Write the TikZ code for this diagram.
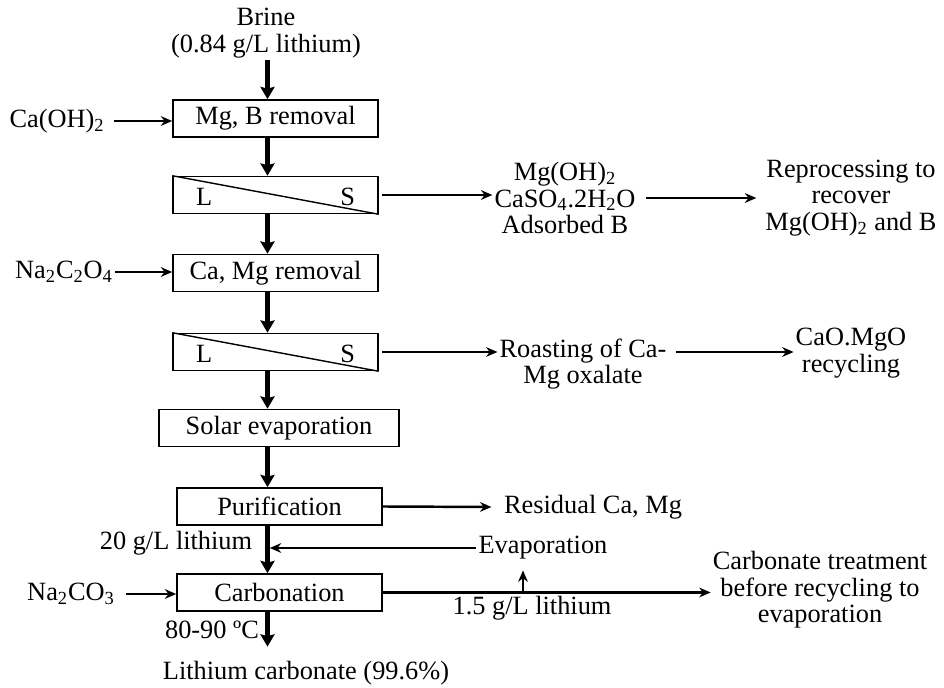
\documentclass[tikz,border=0pt]{standalone}
\usepackage{fontspec}
\setmainfont{Liberation Serif}
\usetikzlibrary{arrows.meta, positioning}

\begin{document}
\begin{tikzpicture}[x=0.02cm, y=-0.02cm, font=\fontsize{15}{15}\selectfont]
    \tikzset{
        unit_box/.style={draw, shape = rectangle, line width=0.9pt, minimum width=4.1cm, minimum height=0.74cm},
        txt/.style={align=center, inner sep=1pt},
        main_flow/.style={-{Stealth[length=7pt, width=8pt, inset=1pt]}, line width=2.6pt},
        side_flow/.style={-{Stealth[length=6.5pt, width=5.5pt]}, line width=1.4pt}
    }
    \useasboundingbox (0,0) rectangle (944,688);
    \coordinate (spine) at (267.5,0);
    % main column
    \node[txt] (brine) at (266,33) {Brine\\(0.84 g/L lithium)};
    \node[unit_box] (mgb) at (275.5,118.5) {Mg, B removal};
    \node[unit_box] (sep1) at (275.5,195) {};
    \node[unit_box] (camg) at (275.5,273) {Ca, Mg removal};
    \node[unit_box] (sep2) at (275.5,352) {};
    \node[unit_box, minimum width=4.8cm] (solar) at (279,428) {Solar evaporation};
    \node[unit_box] (purif) at (279.5,506.5) {Purification};
    \node[unit_box] (carb) at (279.5,592.5) {Carbonation};
    \node[txt] (li2co3) at (306,673) {Lithium carbonate (99.6\%)};
    \foreach \s in {sep1, sep2} {
        \draw[line width=0.8pt] (\s.north west) -- (\s.south east);
        \node (\s-l) at ([xshift=0.64cm, yshift=-0.04cm]\s.west) {L};
        \node (\s-s) at ([xshift=-0.62cm, yshift=-0.04cm]\s.east) {S};
    }
    % reagents
    \node[txt] (caoh) at (57,121) {Ca(OH)\textsubscript{2}};
    \node[txt] (oxal) at (64,272) {Na\textsubscript{2}C\textsubscript{2}O\textsubscript{4}};
    \node[txt] (soda) at (71,594) {Na\textsubscript{2}CO\textsubscript{3}};
    % side streams
    \node[txt] (solids1) at (565,198) {Mg(OH)\textsubscript{2}\\CaSO\textsubscript{4}.2H\textsubscript{2}O\\Adsorbed B};
    \node[txt] (reproc) at (851,198) {Reprocessing to\\recover\\Mg(OH)\textsubscript{2} and B};
    \node[txt] (roast) at (583,364) {Roasting of Ca-\\Mg oxalate};
    \node[txt] (caomgo) at (851,353) {CaO.MgO\\recycling};
    \node[txt, anchor=west] (residual) at (502,507) {Residual Ca, Mg};
    \node[txt] (evap) at (543,548) {Evaporation};
    \node[txt] (treat) at (820,590) {Carbonate treatment\\before recycling to\\evaporation};
    \node[txt] (li20) at (176,543) {20 g/L lithium};
    \node[txt] (li15) at (532,608) {1.5 g/L lithium};
    \node[txt] (temp) at (212,630) {80-90 ºC};
    \coordinate (tap) at (523,592.5);

    \foreach \a/\b in {brine/mgb, mgb/sep1, sep1/camg, camg/sep2, sep2/solar, solar/purif, purif/carb}
        \draw[main_flow] (\a.south -| spine) -- (\b.north -| spine);
    \draw[main_flow, shorten >=7pt] (carb.south -| spine) -- (li2co3.north -| spine);

    \draw[side_flow, shorten <=4pt] (caoh.east) -- (caoh.east -| mgb.west);
    \draw[side_flow] (oxal.east) -- (oxal.east -| camg.west);
    \draw[side_flow, shorten <=5pt] (soda.east) -- (soda.east -| carb.west);
    \draw[side_flow, shorten <=2pt] (sep1.east) -- (sep1.east -| solids1.west);
    \draw[side_flow, shorten <=5pt, shorten >=4pt] (solids1.east) -- (reproc.west);
    \draw[side_flow, shorten <=2pt] (sep2.east) -- (sep2.east -| roast.west);
    \draw[side_flow, shorten <=4pt] (roast.east |- sep2.east) -- (caomgo.west |- sep2.east);
    \draw[side_flow] (purif.east) -- ([xshift=-6pt]residual.west);
    \draw[side_flow, shorten >=1.3pt] (evap.west) -- (evap.west -| spine);
    \draw[side_flow] (carb.east) -- (carb.east -| treat.west);
    \draw[side_flow, shorten >=5pt] (tap) -- (tap |- evap.south);
\end{tikzpicture}
\end{document}
